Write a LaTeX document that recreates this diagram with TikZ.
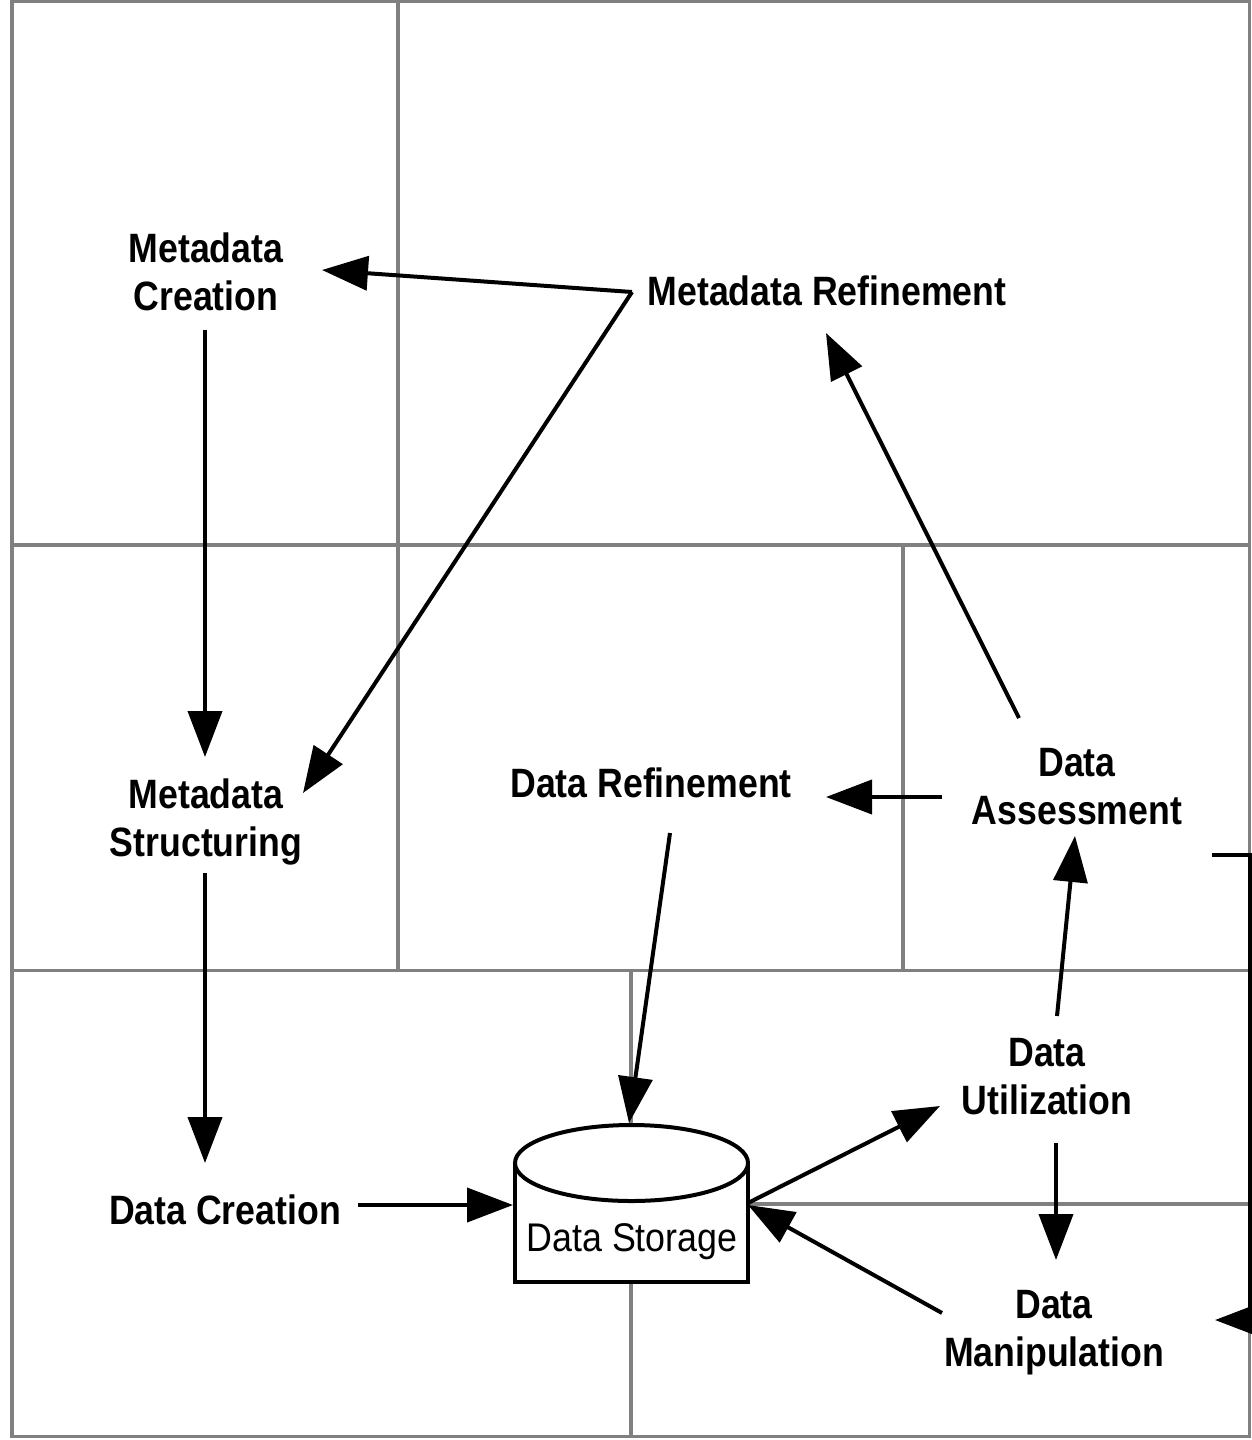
\documentclass[tikz,border=0pt]{standalone}
\usepackage{fontspec}
\setmainfont{Liberation Sans}
\newfontfamily\lblfont{Liberation Sans}[FakeStretch=0.87]
\newfontfamily\storefont{Liberation Sans}[FakeStretch=0.895]
\usetikzlibrary{arrows.meta}
\definecolor{gridgray}{RGB}{128,128,128}

\begin{document}
\begin{tikzpicture}[x=1pt,y=-1pt,
  gridline/.style={draw=gridgray,line width=3.5pt},
  flow/.style={line width=4pt,-{Triangle[length=46pt,width=34pt]}},
  proc/.style={inner sep=0pt,align=center,font=\lblfont\bfseries\fontsize{41}{48}\selectfont},
  store/.style={inner sep=0pt,font=\storefont\fontsize{40}{48}\selectfont}]

\useasboundingbox (0,0) rectangle (1251,1440);

% background grid of panels
\draw[gridline] (12,1.5) rectangle (1249.5,1436.5);
\draw[gridline] (398,1.5) -- (398,970.5);
\draw[gridline] (12,545) -- (1249.5,545);
\draw[gridline] (903,545) -- (903,970.5);
\draw[gridline] (12,970.5) -- (1249.5,970.5);
\draw[gridline] (631,970.5) -- (631,1436.5);
\draw[gridline] (631,1204) -- (1249.5,1204);

% data store cylinder
\draw[line width=4pt,fill=white] (515,1163) -- (515,1282) -- (748,1282) -- (748,1163);
\draw[line width=4pt,fill=white] (631.5,1163) ellipse [x radius=116.5,y radius=38];

% process labels
\node[proc] (mc) at (206,272)  {Metadata\\Creation};
\node[proc] (mr) at (827,291)  {Metadata Refinement};
\node[proc] (ms) at (206,822)  {Metadata\\Structuring};
\node[proc] (dr) at (651,783)  {Data Refinement};
\node[proc] (da) at (1077,787) {Data\\Assessment};
\node[proc] (dc) at (225,1210) {Data Creation};
\node[proc] (du) at (1047,1077){Data\\Utilization};
\node[proc] (dm) at (1054,1333){Data\\Manipulation};
\node[store] (ds) at (632,1242) {Data Storage};

% fork point left of Metadata Refinement
\coordinate (fork) at ([shift={(-195,1)}]mr.center);

% connectors
\draw[flow] (fork) -- ([shift={(116,-2)}]mc.center);
\draw[flow] (fork) -- ([shift={(97,-29)}]ms.center);
\draw[flow] ([shift={(-1,58)}]mc.center) -- ([shift={(-1,-65)}]ms.center);
\draw[flow] ([shift={(-1,51)}]ms.center) -- ([shift={(-20,-47)}]dc.center);
\draw[flow] ([shift={(133,-5)}]dc.center) -- ([shift={(-119,-37)}]ds.center);
\draw[flow] ([shift={(19,50)}]dr.center) -- ([shift={(-3,-119)}]ds.center);
\draw[flow] ([shift={(-58,-69)}]da.center) -- ([shift={(-1,42)}]mr.center);
\draw[flow] ([shift={(-135,10)}]da.center) -- ([shift={(175,14)}]dr.center);
\draw[flow] ([shift={(10,-61)}]du.center) -- ([shift={(-2,49)}]da.center);
\draw[flow] ([shift={(116,-39)}]ds.center) -- ([shift={(-107,29)}]du.center);
\draw[flow] ([shift={(-112,-20)}]dm.center) -- ([shift={(116,-37)}]ds.center);
\draw[flow] ([shift={(9,66)}]du.center) -- ([shift={(2,-73)}]dm.center);
\draw[flow] ([shift={(135,68)}]da.center) -- ++(37.5,0) |- ([shift={(161,-13)}]dm.center);

\end{tikzpicture}
\end{document}
